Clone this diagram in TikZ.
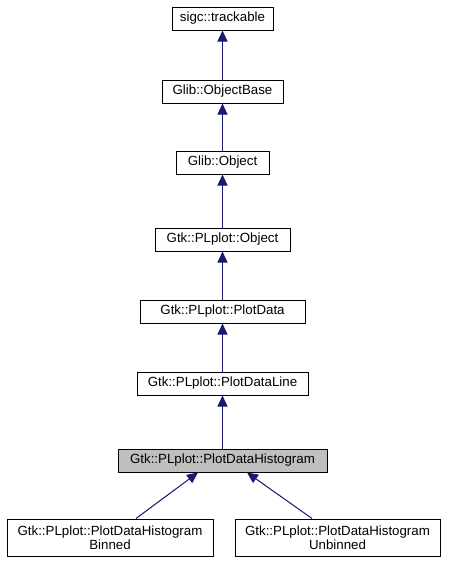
\documentclass[tikz,border=0pt]{standalone}
\usepackage{fontspec}
\setmainfont{Liberation Sans}
\usetikzlibrary{arrows.meta,positioning}
\definecolor{edgeblue}{HTML}{191970}
\definecolor{curgray}{HTML}{BFBFBF}

\begin{document}
\begin{tikzpicture}[
    x=1pt, y=-1pt,
    >={Triangle[length=11pt,width=10pt]},
    cls/.style={draw, fill=white, line width=1pt, align=center, inner sep=2pt, minimum height=23pt, font=\fontsize{13.3}{14}\selectfont},
    current/.style={cls, fill=curgray},
    inherit/.style={<-, draw=edgeblue, fill=edgeblue, line width=1pt},
  ]
    \useasboundingbox (0,0) rectangle (448,563);
    \node[cls, minimum width=101pt] (track) at (222.5,18.5) {sigc::trackable};
    \node[cls, minimum width=121pt] (objbase) at (222.5,91.5) {Glib::ObjectBase};
    \node[cls, minimum width=93pt] (glibobj) at (222.5,162.5) {Glib::Object};
    \node[cls, minimum width=135pt] (plobj) at (222.5,239.5) {Gtk::PLplot::Object};
    \node[cls, minimum width=165pt] (pdata) at (222.5,311.5) {Gtk::PLplot::PlotData};
    \node[cls, minimum width=171pt] (pline) at (222.5,383.5) {Gtk::PLplot::PlotDataLine};
    \node[current, minimum width=209pt] (hist) at (222.5,460.5) {Gtk::PLplot::PlotDataHistogram};
    \node[cls, minimum width=206pt, minimum height=37pt] (binned) at (110,537.5) {Gtk::PLplot::PlotDataHistogram\\Binned};
    \node[cls, minimum width=205pt, minimum height=37pt] (unbinned) at (337.5,537.5) {Gtk::PLplot::PlotDataHistogram\\Unbinned};
    \draw[inherit] (track) -- (objbase);
    \draw[inherit] (objbase) -- (glibobj);
    \draw[inherit] (glibobj) -- (plobj);
    \draw[inherit] (plobj) -- (pdata);
    \draw[inherit] (pdata) -- (pline);
    \draw[inherit] (pline) -- (hist);
    \draw[inherit] ([xshift=-24.5pt]hist.south) -- ([xshift=26pt]binned.north);
    \draw[inherit] ([xshift=24.5pt]hist.south) -- ([xshift=-25.5pt]unbinned.north);
  \end{tikzpicture}
\end{document}
